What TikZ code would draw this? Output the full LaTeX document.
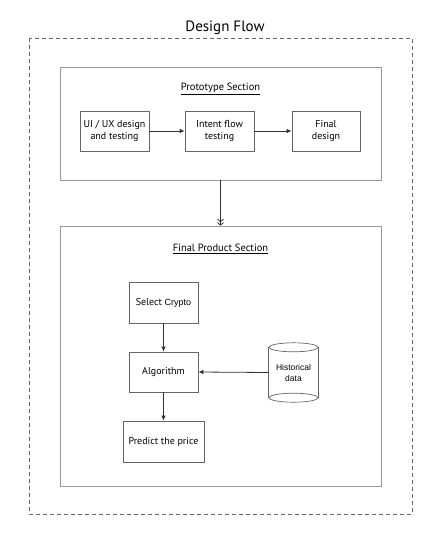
\documentclass[tikz,border=0pt]{standalone}
\usepackage{fontspec}
\setmainfont{PT Sans}
\newfontfamily\arialfont{Liberation Sans}
\usetikzlibrary{arrows.meta}

\begin{document}
\begin{tikzpicture}[x=1pt,y=-1pt]
  \tikzstyle{SectionStyle}=[draw=black!40,line width=0.8pt,rectangle,inner sep=0pt]
  \tikzstyle{BoxStyle}=[draw=black!60,line width=0.8pt,rectangle,align=center,
                        font=\fontsize{10}{12.5}\selectfont,inner sep=2pt]
  \tikzstyle{TitleStyle}=[font=\fontsize{10.5}{12}\selectfont]
  \tikzstyle{EdgeStyle}=[draw=black!80,line width=0.8pt,-{Latex[length=5pt,width=4.5pt]}]
  \useasboundingbox (0,0) rectangle (441,544);
  % outer frame
  \draw[black!60,line width=0.7pt,dash pattern=on 4pt off 3pt] (29,38) rectangle (412,514);
  \node[font=\fontsize{15}{18}\selectfont] (title) at (225,28) {Design Flow};
  % prototype section
  \node[SectionStyle,minimum width=321pt,minimum height=113pt] (proto) at (220.5,123.5) {};
  \node[TitleStyle] (protoT) at (220.5,89) {\underline{Prototype Section}};
  \node[BoxStyle,minimum width=69pt,minimum height=40pt] (ui) at (114.5,131) {UI / UX design\\and testing};
  \node[BoxStyle,minimum width=69pt,minimum height=40pt] (intent) at (219.5,131) {Intent flow\\testing};
  \node[BoxStyle,minimum width=68pt,minimum height=40pt] (final) at (326,131) {Final\\design};
  % final product section
  \node[SectionStyle,minimum width=321pt,minimum height=260pt] (product) at (220.5,356) {};
  \node[TitleStyle] (productT) at (220.5,249) {\underline{Final Product Section}};
  \node[BoxStyle,minimum width=69pt,minimum height=41pt] (select) at (163.5,302.5)
       {Select {\arialfont\fontsize{9}{11}\selectfont Crypto}};
  \node[BoxStyle,minimum width=69pt,minimum height=40pt] (algo) at (163.5,372) {Algorithm};
  \node[BoxStyle,minimum width=81pt,minimum height=41pt] (predict) at (163.5,441.5) {Predict the price};
  \node[rectangle,minimum width=49pt,minimum height=59pt,align=center,
        font=\arialfont\fontsize{8.5}{11}\selectfont] (hist) at (293.5,372.5) {Historical\\data};
  % cylinder
  \draw[black!60,line width=0.7pt] ([yshift=-4.5pt]hist.north west) -- ([yshift=4.5pt]hist.south west)
       ([yshift=-4.5pt]hist.north east) -- ([yshift=4.5pt]hist.south east);
  \draw[black!60,line width=0.7pt,fill=white] ([yshift=-4.5pt]hist.north) ellipse (24.5pt and 4.5pt);
  \draw[black!60,line width=0.7pt] ([yshift=4.5pt]hist.south) ellipse (24.5pt and 4.5pt);
  % edges
  \draw[EdgeStyle] (ui) -- (intent);
  \draw[EdgeStyle] (intent) -- (final);
  \draw[EdgeStyle,-{Straight Barb[length=2.5pt,width=6pt]Straight Barb[length=2.5pt,width=6pt]}]
       (proto.south) -- (product.north);
  \draw[EdgeStyle] (select) -- (algo);
  \draw[EdgeStyle] (algo) -- (predict);
  \draw[EdgeStyle] (hist.west) -- (algo.east);
\end{tikzpicture}
\end{document}
